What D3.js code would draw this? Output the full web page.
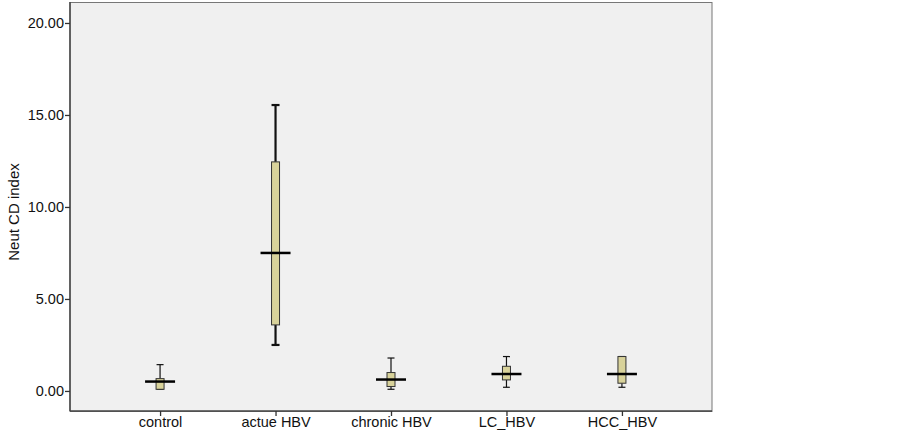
<!DOCTYPE html>
<html>
<head>
<meta charset="utf-8">
<script src="https://cdn.jsdelivr.net/npm/d3@7"></script>
<style>
  body { margin: 0; background: #fff; }
  text { font-family: "Liberation Sans", Arial, sans-serif; }
</style>
</head>
<body>
<div id="chart"></div>
<script>
/* boxplot of Neut CD index per group */
var groups = ["control", "actue HBV", "chronic HBV", "LC_HBV", "HCC_HBV"];
var whiskerLow  = [0.09, 2.50, 0.09, 0.20, 0.20];
var boxLow      = [0.09, 3.59, 0.24, 0.60, 0.42];
var medians     = [0.51, 7.50, 0.62, 0.92, 0.92];
var boxHigh     = [0.67, 12.45, 1.00, 1.34, 1.87];
var whiskerHigh = [1.43, 15.54, 1.79, 1.87, 1.87];
var yTicks = [0, 5, 10, 15, 20];

var width = 903, height = 432;
var margin = { top: 2, right: 191, bottom: 21, left: 70 };

var svg = d3.select("#chart").append("svg")
    .attr("width", width)
    .attr("height", height);

var x = d3.scalePoint()
    .domain(groups)
    .range([margin.left, width - margin.right])
    .padding(0.78);

var y = d3.scaleLinear()
    .domain([-1.09, 21.14])
    .range([height - margin.bottom, margin.top]);

// plot frame
svg.append("rect")
    .attr("x", margin.left)
    .attr("y", margin.top + 0.5)
    .attr("width", width - margin.right - margin.left)
    .attr("height", height - margin.bottom - margin.top)
    .attr("fill", "#f0f0f0")
    .attr("stroke", "#777")
    .attr("stroke-width", 1);

var data = groups.map(function(g, i) {
  return { g: g, wl: whiskerLow[i], bl: boxLow[i], med: medians[i], bh: boxHigh[i], wh: whiskerHigh[i] };
});

var boxes = svg.append("g").selectAll("g")
    .data(data)
  .enter().append("g")
    .attr("transform", function(d) { return "translate(" + x(d.g) + ",0)"; });

var thick = function(d) { return d.g === "actue HBV" ? 2.2 : 1.2; };
var capW = function(d) { return d.g === "actue HBV" ? 4 : 3.5; };

// whisker stems
boxes.append("line")
    .attr("y1", function(d) { return y(d.wh); })
    .attr("y2", function(d) { return y(d.bh); })
    .attr("stroke", "#111").attr("stroke-width", thick);
boxes.append("line")
    .attr("y1", function(d) { return y(d.bl); })
    .attr("y2", function(d) { return y(d.wl); })
    .attr("stroke", "#111").attr("stroke-width", thick);
// caps
boxes.append("line")
    .attr("x1", function(d) { return -capW(d); })
    .attr("x2", function(d) { return capW(d); })
    .attr("y1", function(d) { return y(d.wh); })
    .attr("y2", function(d) { return y(d.wh); })
    .attr("stroke", "#111").attr("stroke-width", thick);
boxes.append("line")
    .attr("x1", function(d) { return -capW(d); })
    .attr("x2", function(d) { return capW(d); })
    .attr("y1", function(d) { return y(d.wl); })
    .attr("y2", function(d) { return y(d.wl); })
    .attr("stroke", "#111").attr("stroke-width", thick);

// box
boxes.append("rect")
    .attr("x", -4)
    .attr("width", 8)
    .attr("y", function(d) { return y(d.bh); })
    .attr("height", function(d) { return y(d.bl) - y(d.bh); })
    .attr("fill", "#d8d29a")
    .attr("stroke", "#333")
    .attr("stroke-width", 1);

// median
boxes.append("line")
    .attr("x1", -15).attr("x2", 15)
    .attr("y1", function(d) { return y(d.med); })
    .attr("y2", function(d) { return y(d.med); })
    .attr("stroke", "#000").attr("stroke-width", 2.5);

// axes
var yAxis = d3.axisLeft(y)
    .tickValues(yTicks)
    .tickFormat(d3.format(".2f"))
    .tickSize(5)
    .tickSizeOuter(0);
var gy = svg.append("g")
    .attr("transform", "translate(" + margin.left + ",0)")
    .call(yAxis);
gy.select(".domain").attr("d", "M0," + margin.top + "V" + (height - margin.bottom))
    .attr("stroke", "#444").attr("stroke-width", 1.5);
gy.selectAll(".tick line").attr("stroke", "#333").attr("stroke-width", 1.3);
gy.selectAll(".tick text").attr("x", -6).attr("font-size", "14.5px").attr("fill", "#111")
    .style("font-family", "Liberation Sans, Arial, sans-serif");

var xAxis = d3.axisBottom(x).tickSize(5).tickSizeOuter(0);
var gx = svg.append("g")
    .attr("transform", "translate(0," + (height - margin.bottom) + ")")
    .call(xAxis);
gx.select(".domain").attr("d", "M" + margin.left + ",0H" + (width - margin.right))
    .attr("stroke", "#444").attr("stroke-width", 1.5);
gx.selectAll(".tick line").attr("stroke", "#333").attr("stroke-width", 1.3);
gx.selectAll(".tick text").attr("y", 6).attr("font-size", "14.5px").attr("fill", "#111")
    .style("font-family", "Liberation Sans, Arial, sans-serif");

// y title
svg.append("text")
    .attr("transform", "translate(19,212) rotate(-90)")
    .attr("text-anchor", "middle")
    .attr("font-size", "15px")
    .attr("fill", "#111")
    .text("Neut CD index");
</script>
</body>
</html>
